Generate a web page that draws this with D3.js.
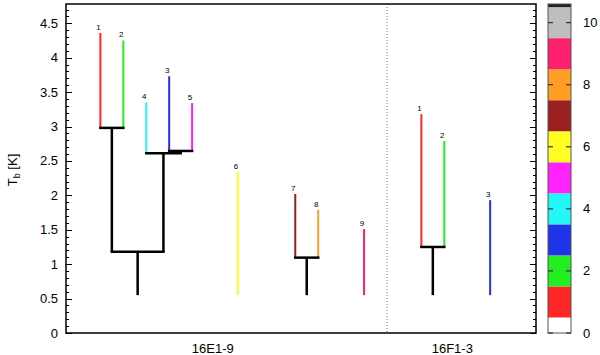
<!DOCTYPE html>
<html>
<head>
<meta charset="utf-8">
<script src="https://cdn.jsdelivr.net/npm/d3@7"></script>
<style>
	body { margin: 0; background: #fff; }
	svg { display: block; font-family: "Liberation Sans", Arial, sans-serif; }
</style>
</head>
<body>
<svg id="chart" width="600" height="355"></svg>
<script>
// leaves (x position in slot units, peak of each coloured line)
const leafLabels = ["1", "2", "3", "4", "5", "6", "7", "8", "9", "1", "2", "3"];
const leafPos = [1.5, 2.5, 4.5, 3.5, 5.5, 7.5, 10, 11, 13, 15.5, 16.5, 18.5];
const leafPeak = [4.36, 4.25, 3.73, 3.35, 3.34, 2.34, 2.02, 1.79, 1.51, 3.18, 2.79, 1.93];
const leafColor = [1, 2, 3, 4, 5, 6, 7, 8, 9, 1, 2, 3];

// merges: children ("L" leaf / "M" merge), merge level, level of parent
const mergeA = ["L0", "L2", "L3", "M0", "L6", "L9"];
const mergeB = ["L1", "L4", "M1", "M2", "L7", "L10"];
const mergeH = [2.98, 2.645, 2.61, 1.18, 1.095, 1.25];
const mergeBase = [1.18, 2.61, 1.18, 0.55, 0.55, 0.55];
const leafFloor = 0.55;

const groupNames = ["16E1-9", "16F1-3"];
const groupPos = [6.4, 16.85];
const groupDivider = 14;

const yTicks = [0, 0.5, 1, 1.5, 2, 2.5, 3, 3.5, 4, 4.5];
const cbTicks = [0, 2, 4, 6, 8, 10];
const cbColors = ["#ffffff", "#ff2626", "#22ee22", "#1f33e8", "#22f6f6", "#ff22ff",
	"#ffff22", "#9a1f1f", "#ff9e22", "#ff1f6e", "#bebebe", "#222222"];

const svg = d3.select("#chart");
const pL = 66, pR = 536, pT = 4, pB = 333;

const x = d3.scaleLinear().domain([0, 20.5]).range([pL, pR]);
const y = d3.scaleLinear().domain([0, 4.78]).range([pB, pT]);

// minor + major ticks, inward on both sides
const minor = d3.range(0, 4.78, 0.1);
const tickG = svg.append("g").attr("stroke", "#000").attr("stroke-width", 1);
minor.forEach(v => {
	const major = yTicks.some(t => Math.abs(t - v) < 1e-6);
	const len = major ? 6 : 3;
	const yy = Math.round(y(v)) + 0.5;
	tickG.append("line").attr("x1", pL).attr("x2", pL + len).attr("y1", yy).attr("y2", yy);
	tickG.append("line").attr("x1", pR).attr("x2", pR - len).attr("y1", yy).attr("y2", yy);
});

svg.append("g").selectAll("text").data(yTicks).join("text")
	.attr("x", pL - 8).attr("y", d => y(d)).attr("dy", "0.35em")
	.attr("text-anchor", "end").attr("font-size", 13)
	.text(d => d);

// y label
const yl = svg.append("text")
	.attr("transform", "translate(17,170) rotate(-90)")
	.attr("text-anchor", "middle").attr("font-size", 13);
yl.append("tspan").text("T");
yl.append("tspan").attr("font-size", 9).attr("dy", 3).text("b");
yl.append("tspan").attr("dy", -3).text(" [K]");

// group divider
svg.append("line")
	.attr("x1", x(groupDivider)).attr("x2", x(groupDivider))
	.attr("y1", pT).attr("y2", pB)
	.attr("stroke", "#777").attr("stroke-width", 1).attr("stroke-dasharray", "1,2");

// group labels
svg.append("g").selectAll("text").data(groupNames).join("text")
	.attr("x", (d, i) => x(groupPos[i])).attr("y", 353)
	.attr("text-anchor", "middle").attr("font-size", 13)
	.text(d => d);

// dendrogram
const nodeX = {};
leafPos.forEach((p, i) => nodeX["L" + i] = p);
mergeA.forEach((a, i) => nodeX["M" + i] = (nodeX[a] + nodeX[mergeB[i]]) / 2);

const leafBase = leafPos.map((p, i) => {
	const k = mergeA.indexOf("L" + i) >= 0 ? mergeA.indexOf("L" + i) : mergeB.indexOf("L" + i);
	return k >= 0 ? mergeH[k] : leafFloor;
});

svg.append("g").selectAll("line").data(leafPos).join("line")
	.attr("x1", d => x(d)).attr("x2", d => x(d))
	.attr("y1", (d, i) => y(leafBase[i])).attr("y2", (d, i) => y(leafPeak[i]))
	.attr("stroke", (d, i) => cbColors[leafColor[i]]).attr("stroke-width", 2);

svg.append("g").selectAll("text").data(leafLabels).join("text")
	.attr("x", (d, i) => x(leafPos[i]) - 2).attr("y", (d, i) => y(leafPeak[i]) - 3)
	.attr("text-anchor", "middle").attr("font-size", 8)
	.text(d => d);

const dend = svg.append("g").attr("stroke", "#000").attr("stroke-width", 2.5)
	.attr("fill", "none").attr("stroke-linecap", "square");
mergeA.forEach((a, i) => {
	const xa = x(nodeX[a]), xb = x(nodeX[mergeB[i]]), xm = x(nodeX["M" + i]);
	dend.append("line").attr("x1", xa).attr("x2", xb).attr("y1", y(mergeH[i])).attr("y2", y(mergeH[i]));
	dend.append("line").attr("x1", xm).attr("x2", xm).attr("y1", y(mergeH[i])).attr("y2", y(mergeBase[i]))
		.attr("stroke-linecap", "butt");
});

// frame
svg.append("rect").attr("x", pL).attr("y", pT)
	.attr("width", pR - pL).attr("height", pB - pT)
	.attr("fill", "none").attr("stroke", "#000").attr("stroke-width", 1.5);

// colour bar
const cbL = 548, cbR = 571;
const cy = d3.scaleLinear().domain([0, 10.6]).range([pB, pT]);
svg.append("g").selectAll("rect").data(cbColors).join("rect")
	.attr("x", cbL).attr("width", cbR - cbL)
	.attr("y", (d, i) => cy(Math.min(i + 0.5, 10.6)))
	.attr("height", (d, i) => cy(Math.max(i - 0.5, 0)) - cy(Math.min(i + 0.5, 10.6)))
	.attr("fill", d => d);
svg.append("rect").attr("x", cbL).attr("y", pT)
	.attr("width", cbR - cbL).attr("height", pB - pT)
	.attr("fill", "none").attr("stroke", "#555").attr("stroke-width", 1);
const cbT = svg.append("g").attr("stroke", "#333").attr("stroke-width", 1.2);
cbTicks.forEach(v => {
	cbT.append("line").attr("x1", cbL).attr("x2", cbL + 5).attr("y1", cy(v)).attr("y2", cy(v));
	cbT.append("line").attr("x1", cbR).attr("x2", cbR - 5).attr("y1", cy(v)).attr("y2", cy(v));
});
svg.append("g").selectAll("text").data(cbTicks).join("text")
	.attr("x", 583).attr("y", d => cy(d)).attr("dy", "0.35em")
	.attr("font-size", 13)
	.text(d => d);
</script>
</body>
</html>
